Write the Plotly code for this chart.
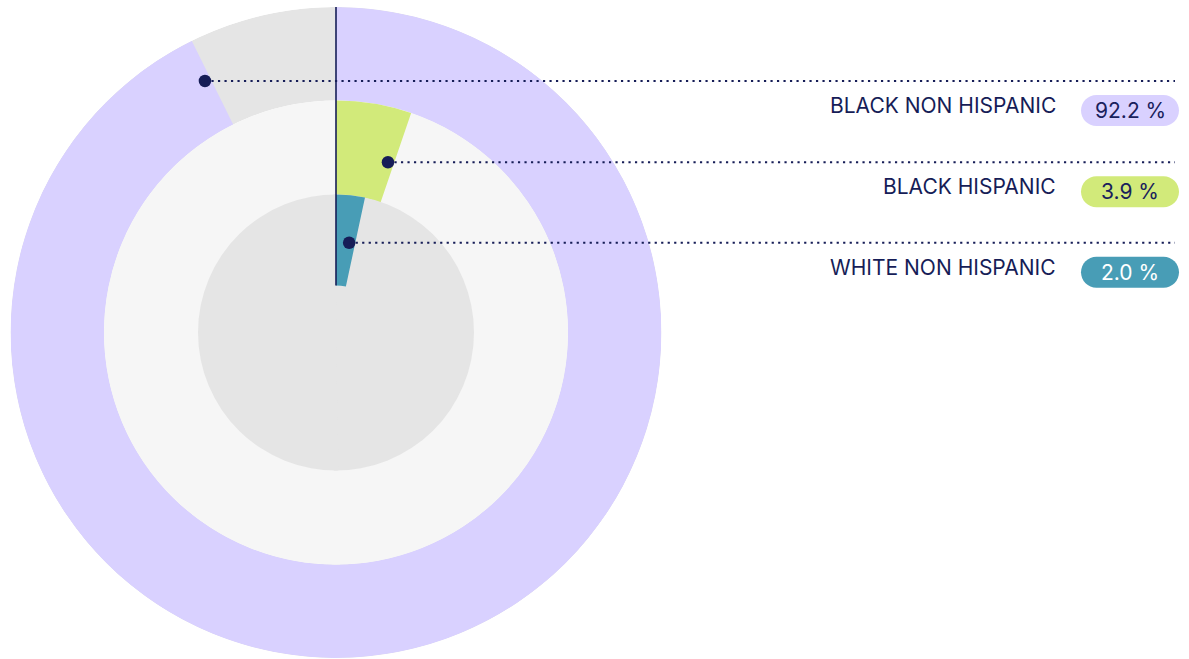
import math
import plotly.graph_objects as go

# ---------------- data ----------------
groups = ["BLACK NON HISPANIC", "BLACK HISPANIC", "WHITE NON HISPANIC"]
values = [92.2, 3.9, 2.0]
value_labels = ["92.2 %", "3.9 %", "2.0 %"]

# ---------------- style ----------------
colors = ["#d9d1ff", "#d2ea7a", "#489db6"]
track_colors = ["#e5e5e5", "#f6f6f6", "#e5e5e5"]
badge_text_colors = ["#19215c", "#19215c", "#ffffff"]
NAVY = "#161d57"
FONT = "Inter, Roboto, Arial, sans-serif"

W, H = 1189, 659
CX, CY, R = 336.0, 332.5, 325.5          # pixel centre / outer radius
ring_px = [(232.0, 325.5), (137.5, 232.0), (47.0, 138.0)]
dot_r_px = [283.6, 178.0, 90.7]
ARC_PAD, DEG_PER_PCT = 5.0, 3.565         # minimum arc + angular scale
LINE_END_X = 1175
LABEL_RIGHT_X = 1058
BADGE_X0, BADGE_X1 = 1081, 1179


def px(x):
    return x / W


def py(y):
    return 1 - y / H


fig = go.Figure()

arcs = [ARC_PAD + DEG_PER_PCT * v for v in values]

for i, (inner, outer) in enumerate(ring_px):
    base_track = 0.0 if i == len(ring_px) - 1 else inner
    # full-circle track (two overlapping halves)
    fig.add_trace(go.Barpolar(
        r=[(outer - base_track) / R] * 2, base=[base_track / R] * 2,
        theta=[90, 270], width=[182, 182],
        marker=dict(color=track_colors[i], line=dict(width=0)),
        hoverinfo="skip", showlegend=False))
    # value arc
    fig.add_trace(go.Barpolar(
        r=[(outer - inner) / R], base=[inner / R],
        theta=[arcs[i] / 2], width=[arcs[i]],
        marker=dict(color=colors[i], line=dict(width=0)),
        name=groups[i], hoverinfo="skip", showlegend=False))

# vertical start line
fig.add_trace(go.Scatterpolar(
    r=[ring_px[-1][0] / R, 1.0], theta=[0, 0], mode="lines",
    line=dict(color=NAVY, width=1.6), hoverinfo="skip", showlegend=False))

# dots at arc ends
dot_theta = [a - math.degrees(6.0 / rp) for a, rp in zip(arcs, dot_r_px)]
fig.add_trace(go.Scatterpolar(
    r=[rp / R for rp in dot_r_px], theta=dot_theta, mode="markers",
    marker=dict(color=NAVY, size=12.5, line=dict(width=0)),
    hoverinfo="skip", showlegend=False))

shapes = []
annotations = []
for i in range(len(groups)):
    t = math.radians(dot_theta[i])
    dx = CX + dot_r_px[i] * math.sin(t)
    dy = CY - dot_r_px[i] * math.cos(t)
    shapes.append(dict(type="line", xref="paper", yref="paper",
                       x0=px(dx), x1=px(LINE_END_X), y0=py(dy), y1=py(dy),
                       line=dict(color=NAVY, width=2.2, dash="2.2px,4.3px"),
                       layer="above"))
    # pill badge
    y0, y1 = dy + 14, dy + 45
    r = (y1 - y0) / 2
    k = 0.5523 * r
    x0, x1 = BADGE_X0, BADGE_X1
    pts = [
        ("M", [(x0 + r, y0)]),
        ("L", [(x1 - r, y0)]),
        ("C", [(x1 - r + k, y0), (x1, y0 + r - k), (x1, y0 + r)]),
        ("C", [(x1, y0 + r + k), (x1 - r + k, y1), (x1 - r, y1)]),
        ("L", [(x0 + r, y1)]),
        ("C", [(x0 + r - k, y1), (x0, y0 + r + k), (x0, y0 + r)]),
        ("C", [(x0, y0 + r - k), (x0 + r - k, y0), (x0 + r, y0)]),
    ]
    path = ""
    for cmd, pl in pts:
        path += cmd + " ".join(f"{px(a):.6f},{py(b):.6f}" for a, b in pl) + " "
    path += "Z"
    shapes.append(dict(type="path", xref="paper", yref="paper", path=path,
                       fillcolor=colors[i], line=dict(width=0), layer="above"))
    annotations.append(dict(x=px(LABEL_RIGHT_X), y=py(dy + 24.5), xref="paper", yref="paper",
                            text=groups[i], showarrow=False, xanchor="right", yanchor="middle",
                            font=dict(family=FONT, size=21, color=NAVY)))
    annotations.append(dict(x=px((x0 + x1) / 2), y=py((y0 + y1) / 2), xref="paper", yref="paper",
                            text=value_labels[i], showarrow=False, xanchor="center", yanchor="middle",
                            font=dict(family=FONT, size=21, color=badge_text_colors[i])))

fig.update_layout(
    width=W, height=H, margin=dict(l=0, r=0, t=0, b=0),
    paper_bgcolor="white", plot_bgcolor="white",
    polar=dict(
        domain=dict(x=[px(CX - R), px(CX + R)], y=[py(CY + R), py(CY - R)]),
        bgcolor="rgba(0,0,0,0)", barmode="overlay", bargap=0, hole=0,
        radialaxis=dict(visible=False, range=[0, 1]),
        angularaxis=dict(visible=False, rotation=90, direction="clockwise"),
    ),
    shapes=shapes, annotations=annotations, showlegend=False, hovermode=False,
)

fig.write_html("out.html")
